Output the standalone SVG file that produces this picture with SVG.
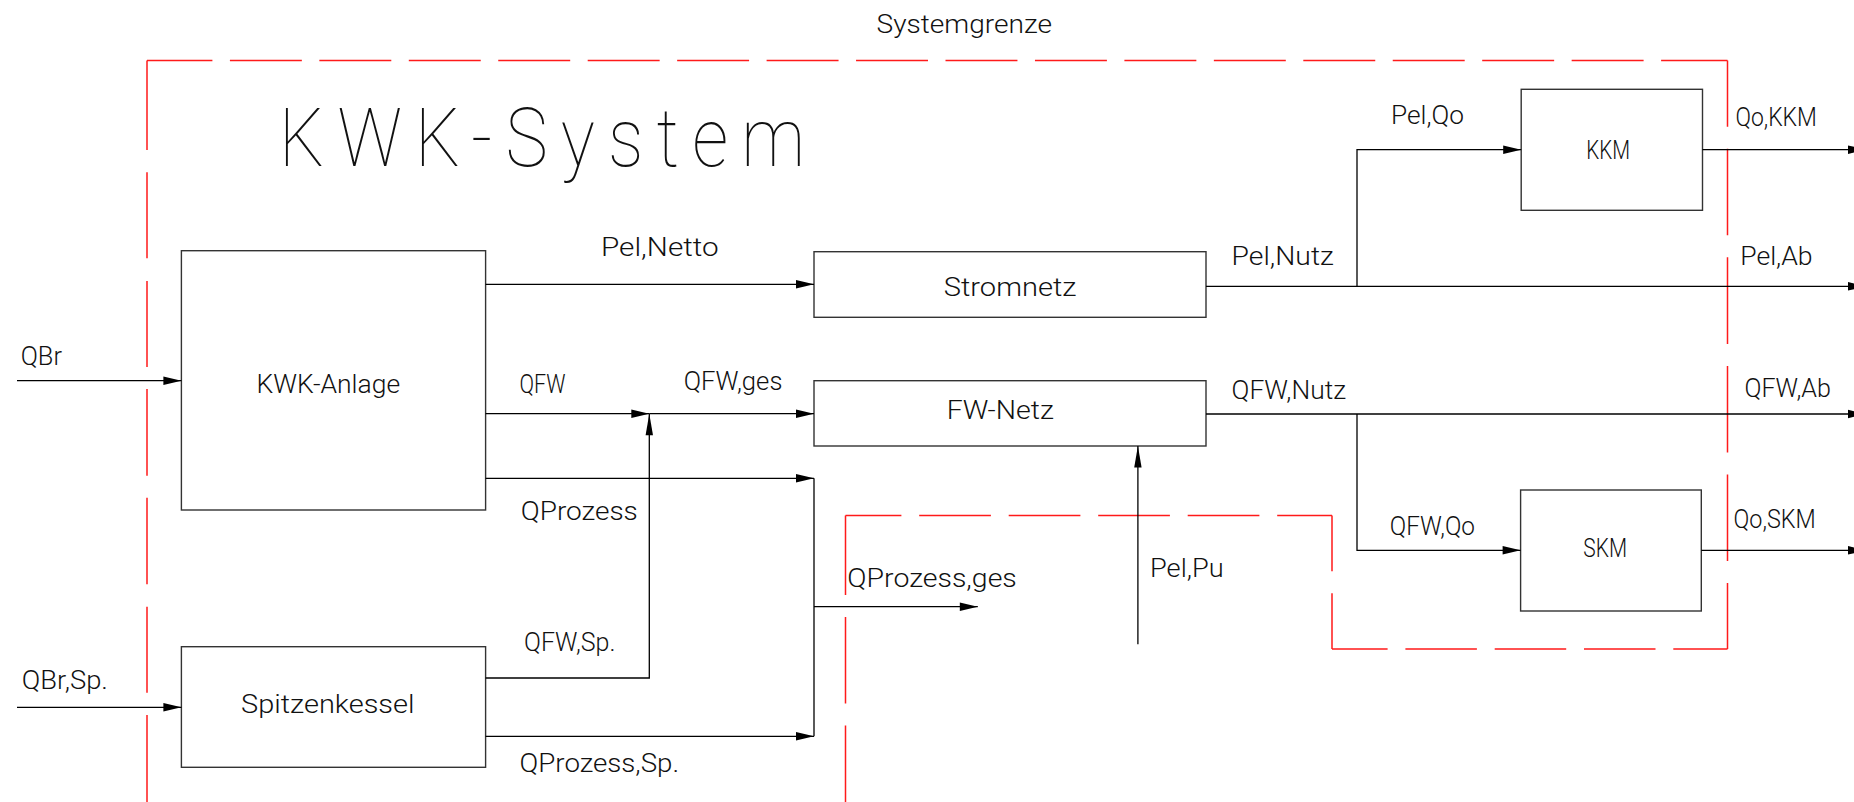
<svg xmlns="http://www.w3.org/2000/svg" width="1854" height="802" viewBox="0 0 1854 802">
<style>
.bg{fill:#fff}
.box{fill:none;stroke:#333;stroke-width:1.4}
.ln{fill:none;stroke:#000;stroke-width:1.3}
.bd{fill:none;stroke:#ff1a1a;stroke-width:1.5}
.h{stroke-dasharray:71.95 17.5}
.v{stroke-dasharray:86.6 22}
text{font-family:Roboto,"Liberation Sans",sans-serif;font-weight:300;font-size:26px;fill:#111}
.big{font-size:81px;font-weight:100}
</style>
<defs>
<marker id="ah" markerUnits="userSpaceOnUse" markerWidth="18" markerHeight="9" refX="18" refY="4.3" orient="auto" overflow="visible">
<path d="M0,0 L18,4.3 L0,8.6 Z" fill="#000"/>
</marker>
<marker id="av" markerUnits="userSpaceOnUse" markerWidth="21.5" markerHeight="7.4" refX="21.5" refY="3.7" orient="auto" overflow="visible">
<path d="M0,0 L21.5,3.7 L0,7.4 Z" fill="#000"/>
</marker>
</defs>
<rect class="bg" x="0" y="0" width="1854" height="802"/>

<g id="systemgrenze">
<path class="bd" d="M147,60.5 V802" stroke-dasharray="89.5 22.3 86 22.7 86 22 86.7 22 86.6 22.4 86 22.3 200"/>
<path class="bd h" d="M147,60.5 H1727.5" stroke-dashoffset="6.55"/>
<path class="bd v" d="M1727.5,60.5 V649" stroke-dashoffset="20.4"/>
<path class="bd" d="M1727.5,649 H1332" stroke-dasharray="71.5 17.8" stroke-dashoffset="17.3"/>
<path class="bd v" d="M1332,649 V515.5" stroke-dashoffset="30.9"/>
<path class="bd" d="M1332,515.5 H845.5" stroke-dasharray="71.7 17.8" stroke-dashoffset="16.9"/>
<path class="bd v" d="M845.5,515.5 V802" stroke-dashoffset="7.1"/>
<text x="876.6" y="33.3" textLength="175.4" lengthAdjust="spacingAndGlyphs">Systemgrenze</text>
</g>

<g id="title">
<text class="big" transform="translate(279,165.7) scale(0.88,1)" x="0" y="0" textLength="598" lengthAdjust="spacing">KWK-System</text>
</g>

<g id="kwk-anlage">
<rect class="box" x="181.4" y="250.7" width="304.2" height="259.3"/>
<text x="256.6" y="393.3" textLength="143.5" lengthAdjust="spacingAndGlyphs">KWK-Anlage</text>
</g>
<g id="spitzenkessel">
<rect class="box" x="181.4" y="646.7" width="304.2" height="120.6"/>
<text x="241.1" y="713.3" textLength="173.4" lengthAdjust="spacingAndGlyphs">Spitzenkessel</text>
</g>
<g id="stromnetz">
<rect class="box" x="814" y="251.7" width="392" height="65.6"/>
<text x="943.8" y="296" textLength="132.6" lengthAdjust="spacingAndGlyphs">Stromnetz</text>
</g>
<g id="fw-netz">
<rect class="box" x="814" y="380.7" width="392" height="65.3"/>
<text x="946.8" y="419" textLength="107.1" lengthAdjust="spacingAndGlyphs">FW-Netz</text>
</g>
<g id="kkm">
<rect class="box" x="1521.2" y="89.3" width="181.3" height="121"/>
<text x="1586.3" y="158.7" textLength="43.8" lengthAdjust="spacingAndGlyphs">KKM</text>
</g>
<g id="skm">
<rect class="box" x="1520.6" y="490" width="180.7" height="121"/>
<text x="1583.3" y="556.7" textLength="43.7" lengthAdjust="spacingAndGlyphs">SKM</text>
</g>

<g id="connectors">
<path class="ln" d="M17,380.7 H181.4" marker-end="url(#ah)"/>
<path class="ln" d="M17,707.3 H181.4" marker-end="url(#ah)"/>
<path class="ln" d="M485.6,284.3 H814" marker-end="url(#ah)"/>
<path class="ln" d="M485.6,413.7 H649.3" marker-end="url(#ah)"/>
<path class="ln" d="M649.3,413.7 H814" marker-end="url(#ah)"/>
<path class="ln" d="M485.6,678 H649.3 V413.7" marker-end="url(#av)"/>
<path class="ln" d="M485.6,478.3 H814" marker-end="url(#ah)"/>
<path class="ln" d="M485.6,736.3 H814" marker-end="url(#ah)"/>
<path class="ln" d="M814,478.3 V736.3"/>
<path class="ln" d="M814,606.7 H977.8" marker-end="url(#ah)"/>
<path class="ln" d="M1206,286.3 H1866" marker-end="url(#ah)"/>
<path class="ln" d="M1357,286.3 V149.7 H1521.2" marker-end="url(#ah)"/>
<path class="ln" d="M1702.5,149.7 H1866" marker-end="url(#ah)"/>
<path class="ln" d="M1206,414 H1866" marker-end="url(#ah)"/>
<path class="ln" d="M1357,414 V550.3 H1520.6" marker-end="url(#ah)"/>
<path class="ln" d="M1701.3,550.3 H1866" marker-end="url(#ah)"/>
<path class="ln" d="M1137.9,644.3 V446" marker-end="url(#av)"/>
</g>

<g id="labels">
<text x="20.7" y="365" textLength="41.3" lengthAdjust="spacingAndGlyphs">QBr</text>
<text x="21.8" y="689" textLength="86.1" lengthAdjust="spacingAndGlyphs">QBr,Sp.</text>
<text x="601" y="255.7" textLength="117.7" lengthAdjust="spacingAndGlyphs">Pel,Netto</text>
<text x="519.5" y="392.7" textLength="45.9" lengthAdjust="spacingAndGlyphs">QFW</text>
<text x="683.7" y="390" textLength="98.7" lengthAdjust="spacingAndGlyphs">QFW,ges</text>
<text x="520.7" y="520" textLength="117.1" lengthAdjust="spacingAndGlyphs">QProzess</text>
<text x="524.1" y="650.7" textLength="91.3" lengthAdjust="spacingAndGlyphs">QFW,Sp.</text>
<text x="519.5" y="771.7" textLength="159.6" lengthAdjust="spacingAndGlyphs">QProzess,Sp.</text>
<text x="847.3" y="586.7" textLength="169.5" lengthAdjust="spacingAndGlyphs">QProzess,ges</text>
<text x="1231.6" y="265.3" textLength="102.2" lengthAdjust="spacingAndGlyphs">Pel,Nutz</text>
<text x="1391" y="124.3" textLength="73" lengthAdjust="spacingAndGlyphs">Pel,Qo</text>
<text x="1735.4" y="126" textLength="81.5" lengthAdjust="spacingAndGlyphs">Qo,KKM</text>
<text x="1740.2" y="265.3" textLength="72.4" lengthAdjust="spacingAndGlyphs">Pel,Ab</text>
<text x="1231.6" y="399" textLength="114.4" lengthAdjust="spacingAndGlyphs">QFW,Nutz</text>
<text x="1744.5" y="396.7" textLength="86.4" lengthAdjust="spacingAndGlyphs">QFW,Ab</text>
<text x="1389.8" y="535.3" textLength="85.2" lengthAdjust="spacingAndGlyphs">QFW,Qo</text>
<text x="1733.5" y="528.3" textLength="82.2" lengthAdjust="spacingAndGlyphs">Qo,SKM</text>
<text x="1150" y="576.7" textLength="73.7" lengthAdjust="spacingAndGlyphs">Pel,Pu</text>
</g>
</svg>
